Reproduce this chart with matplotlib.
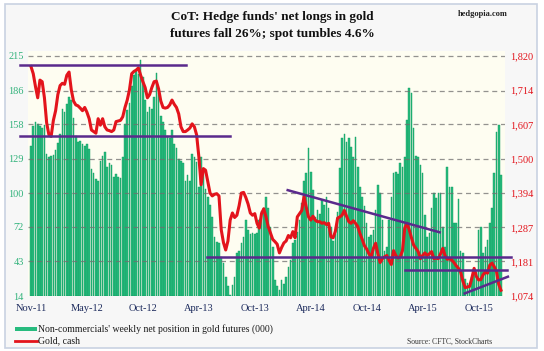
import matplotlib
matplotlib.use('Agg')
from matplotlib import pyplot as plt
from matplotlib.patches import Rectangle
from matplotlib.lines import Line2D

# weekly net position of non-commercials in gold futures (000 contracts)
net_longs = [
    140, 156, 160, 158, 156, 155, 157, 133, 130, 131, 132, 136, 142, 150, 171, 168, 175, 181, 178, 163,
    148, 143, 144, 141, 140,
    141, 137, 120, 117, 112, 110, 127, 131, 135, 122, 125, 124, 114, 116, 114, 113, 130, 158, 170, 176,
    190, 199, 203, 200, 212, 197, 178, 168, 172, 171, 181, 201, 184, 165, 160, 153, 148, 146, 153, 141,
    138, 129, 127, 125,
    110, 115, 110, 133, 130, 126, 105, 130, 118, 104, 97, 90, 80, 63, 59, 58, 47, 42, 30, 22,
    15, 23, 30, 50, 52, 58, 63, 78, 69, 66, 67, 66, 67, 78, 85, 88,
    97, 88, 72, 55, 27, 22, 19, 27, 24, 30, 38, 44, 58, 61, 68, 78, 92, 110, 117, 138,
    118, 103, 80, 86, 83, 94, 90, 97, 88, 72, 60, 66, 84, 121,
    146, 150, 143, 146, 139, 130, 147, 122, 105, 97, 89, 75, 63, 65, 69, 86, 107, 100, 78, 52,
    55, 78, 97, 117, 118, 116, 125, 122, 130, 161, 188, 184, 155, 131,
    130, 124, 117, 82, 63, 67, 88, 100, 96, 100, 100, 72, 55, 122, 105, 105, 75, 75, 95, 52,
    50, 28, 25, 22, 30, 33, 34, 69, 72, 50, 55, 61, 75, 88, 117, 151, 157, 115,
]

# gold, cash ($/oz)
gold_cash = [
    1787, 1765, 1725, 1690, 1745, 1740, 1690, 1612, 1575, 1570, 1620, 1650, 1700, 1728, 1735, 1732,
    1760, 1770, 1715, 1680, 1668, 1665, 1658, 1650, 1660, 1645, 1625, 1590, 1585, 1580, 1625, 1605,
    1625, 1600, 1590,
    1588, 1585, 1590, 1616, 1618, 1620, 1631, 1660, 1683, 1715, 1765, 1772, 1776, 1783, 1760, 1740,
    1722, 1690, 1700, 1722, 1740, 1742, 1718, 1680, 1660, 1658, 1660, 1668, 1683, 1670, 1660, 1640,
    1600, 1585,
    1585, 1590, 1596, 1609, 1600, 1575, 1507, 1420, 1470, 1465, 1430, 1394, 1385, 1390, 1392, 1385,
    1280, 1240, 1217, 1245, 1310, 1332, 1318, 1325, 1355, 1394, 1396, 1380, 1360, 1332, 1325, 1330,
    1300, 1285, 1330, 1345,
    1320, 1290, 1270, 1250, 1243, 1235, 1208, 1225, 1239, 1245, 1262, 1255, 1274, 1255, 1320, 1330,
    1340, 1383, 1350, 1320, 1310, 1322, 1310, 1305, 1305, 1300, 1302, 1296, 1300, 1258, 1255, 1275,
    1316, 1320,
    1325, 1340, 1322, 1305, 1300, 1308, 1300, 1290, 1268, 1250, 1230, 1220, 1205, 1196, 1222, 1238,
    1205, 1178, 1190, 1196, 1200, 1185, 1172, 1215, 1200, 1192, 1196, 1215, 1285, 1300, 1280, 1255,
    1232, 1222,
    1212, 1190, 1200, 1208, 1200, 1205, 1212, 1190, 1192, 1190, 1205, 1222, 1200, 1188, 1190, 1186,
    1178, 1168, 1160, 1148, 1120, 1100, 1102, 1104, 1130, 1160, 1135, 1124, 1125, 1140, 1148, 1145,
    1170, 1176, 1165, 1150, 1110, 1092,
]

date_labels = ['Nov-11', 'May-12', 'Oct-12', 'Apr-13', 'Oct-13', 'Apr-14', 'Oct-14', 'Apr-15', 'Oct-15']
left_ticks = [14, 43, 72, 100, 129, 158, 186, 215]
right_ticks = [1074, 1181, 1287, 1394, 1500, 1607, 1714, 1820]

# support / resistance lines: (week start, week end), (price start, price end)
trend_lines = [
    ((-4.9, 69.2), (1792, 1792)),
    ((-4.9, 88.8), (1571, 1571)),
    ((78.7, 214.7), (1196, 1196)),
    ((167.0, 212.5), (1155, 1155)),
    ((114.7, 182.6), (1403, 1272)),
    ((193.8, 213.1), (1082, 1134)),
]

SERIF = 'Liberation Serif'
GREEN = '#27bb7e'
RED = '#e3141c'
PURPLE = '#5a2a8c'

fig = plt.figure(figsize=(5.44, 3.51), dpi=100)
fig.patch.set_facecolor('white')
fig.add_artist(Rectangle((5 / 544, 3 / 351), 532 / 544, 344 / 351, transform=fig.transFigure,
                         facecolor='#f7f7f7', edgecolor='#c9d2e2', lw=1.2, zorder=-5))

ax = fig.add_axes([28 / 544, 55 / 351, 477 / 544, 244.8 / 351])
ax.set_facecolor('#fefdf1')
for s in ax.spines.values():
    s.set_visible(False)

weeks = list(range(len(net_longs)))
ax.bar(weeks, [v - 14 for v in net_longs], bottom=14, width=0.72, color=GREEN,
       edgecolor='#0f9a5e', linewidth=0.3, zorder=2)
ax.set_xlim(-1.34, 211.8)
ax.set_ylim(14, 219)
ax.set_yticks(left_ticks)
ax.set_yticklabels([str(t) for t in left_ticks])
for t in left_ticks[1:]:
    ax.axhline(t, color='#6f6f6f', lw=0.9, ls=(0, (4, 3)), alpha=0.75, zorder=3)
ax.tick_params(axis='y', length=0, pad=3, labelsize=7.5, labelcolor='#33b37c')
ax.set_xticks([i * 25 for i in range(len(date_labels))])
ax.set_xticklabels(date_labels)
ax.tick_params(axis='x', length=0, pad=6, labelsize=7.5, labelcolor='#1c2a5c')
for lab in ax.get_xticklabels() + ax.get_yticklabels():
    lab.set_family(SERIF)

ax2 = ax.twinx()
for s in ax2.spines.values():
    s.set_visible(False)
ax2.set_ylim(1074, 1074 + 205 * 746 / 201)
ax2.set_yticks(right_ticks)
ax2.set_yticklabels([f'{t:,}' for t in right_ticks])
ax2.tick_params(axis='y', length=0, pad=4, labelsize=7.5, labelcolor=RED)
for lab in ax2.get_yticklabels():
    lab.set_family(SERIF)

ax2.plot(weeks, gold_cash, color=RED, lw=2.2, zorder=5, solid_joinstyle='round')
for (x0, x1), (y0, y1) in trend_lines:
    ax2.plot([x0, x1], [y0, y1], color=PURPLE, lw=1.8, zorder=6, clip_on=False)

# titles
fig.text(0.5, 1 - 17 / 351, "CoT: Hedge funds' net longs in gold", ha='center', va='center',
         family=SERIF, fontweight='bold', fontsize=9.5, color='#111111')
fig.text(0.5, 1 - 34 / 351, 'futures fall 26%; spot tumbles 4.6%', ha='center', va='center',
         family=SERIF, fontweight='bold', fontsize=9.5, color='#111111')
fig.text(508 / 544, 1 - 14 / 351, 'hedgopia.com', ha='right', va='center',
         family=SERIF, fontweight='bold', fontsize=6, color='#222222')

# legend
fig.add_artist(Rectangle((15 / 544, 1 - 331 / 351), 22 / 544, 4 / 351, transform=fig.transFigure,
                         facecolor=GREEN, edgecolor='none'))
fig.text(38 / 544, 1 - 329 / 351, "Non-commercials' weekly net position in gold futures (000)",
         ha='left', va='center', family=SERIF, fontsize=7, color='#1a1a1a')
fig.add_artist(Line2D([15 / 544, 37 / 544], [1 - 341 / 351] * 2, transform=fig.transFigure,
                      color=RED, lw=2))
fig.text(38 / 544, 1 - 341 / 351, 'Gold, cash', ha='left', va='center',
         family=SERIF, fontsize=7, color='#1a1a1a')
fig.text(492 / 544, 1 - 342 / 351, 'Source: CFTC, StockCharts', ha='right', va='center',
         family=SERIF, fontsize=5.5, color='#333333')

fig.savefig('out.png', dpi=100)
